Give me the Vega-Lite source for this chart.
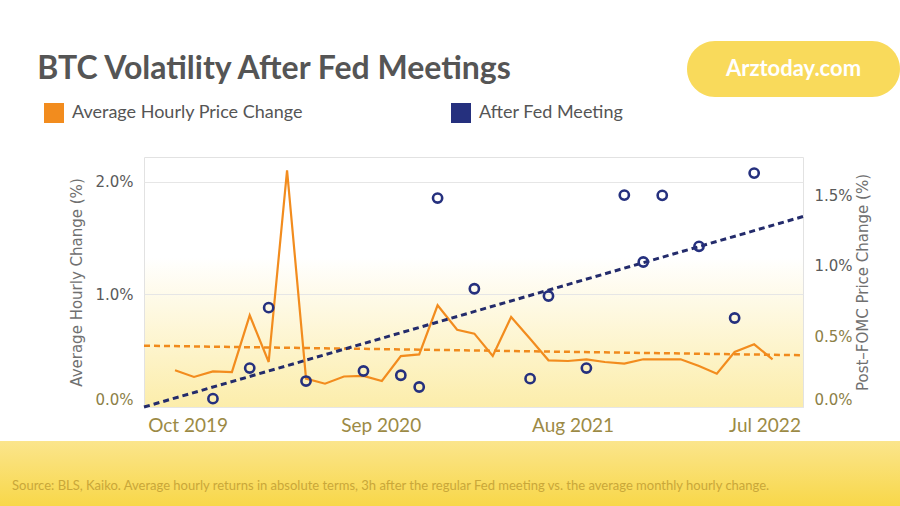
{
  "$schema": "https://vega.github.io/schema/vega-lite/v6.json",
  "background": "#FFFFFF",
  "padding": {"left": 0, "top": 41, "right": 0, "bottom": 0},
  "spacing": 5,
  "config": {"font": "Lato", "view": {"stroke": null}},
  "resolve": {"scale": {"color": "independent"}, "legend": {"color": "independent"}},
  "datasets": {
    "avg": [
      {"d": "2019-09-09", "v": 0.326}, {"d": "2019-10-12", "v": 0.267}, {"d": "2019-11-14", "v": 0.317},
      {"d": "2019-12-17", "v": 0.311}, {"d": "2020-01-17", "v": 0.815}, {"d": "2020-02-19", "v": 0.400},
      {"d": "2020-03-22", "v": 2.104}, {"d": "2020-04-24", "v": 0.252}, {"d": "2020-05-27", "v": 0.207},
      {"d": "2020-06-29", "v": 0.271}, {"d": "2020-08-02", "v": 0.276}, {"d": "2020-09-03", "v": 0.231},
      {"d": "2020-10-06", "v": 0.453}, {"d": "2020-11-07", "v": 0.468}, {"d": "2020-12-09", "v": 0.904},
      {"d": "2021-01-12", "v": 0.687}, {"d": "2021-02-11", "v": 0.652}, {"d": "2021-03-15", "v": 0.453},
      {"d": "2021-04-16", "v": 0.800}, {"d": "2021-05-19", "v": 0.607}, {"d": "2021-06-20", "v": 0.415},
      {"d": "2021-07-24", "v": 0.409}, {"d": "2021-08-25", "v": 0.424}, {"d": "2021-09-26", "v": 0.400},
      {"d": "2021-10-30", "v": 0.385}, {"d": "2021-12-02", "v": 0.424}, {"d": "2022-01-04", "v": 0.424},
      {"d": "2022-02-05", "v": 0.424}, {"d": "2022-03-09", "v": 0.364}, {"d": "2022-04-09", "v": 0.296},
      {"d": "2022-05-10", "v": 0.489}, {"d": "2022-06-13", "v": 0.557}, {"d": "2022-07-15", "v": 0.424}
    ],
    "fed": [
      {"d": "2019-11-14", "v": 0.059}, {"d": "2020-01-17", "v": 0.276}, {"d": "2020-02-19", "v": 0.704},
      {"d": "2020-04-24", "v": 0.184}, {"d": "2020-08-02", "v": 0.255}, {"d": "2020-10-06", "v": 0.225},
      {"d": "2020-11-07", "v": 0.142}, {"d": "2020-12-09", "v": 1.481}, {"d": "2021-02-11", "v": 0.838},
      {"d": "2021-05-19", "v": 0.201}, {"d": "2021-06-20", "v": 0.787}, {"d": "2021-08-25", "v": 0.276},
      {"d": "2021-10-30", "v": 1.502}, {"d": "2021-12-02", "v": 1.028}, {"d": "2022-01-04", "v": 1.500},
      {"d": "2022-03-09", "v": 1.139}, {"d": "2022-05-10", "v": 0.631}, {"d": "2022-06-13", "v": 1.658}
    ],
    "avgTrend": [{"d": "2019-07-17", "v": 0.545}, {"d": "2022-09-06", "v": 0.46}],
    "fedTrend": [{"d": "2019-07-17", "v": 0.0}, {"d": "2022-09-06", "v": 1.35}]
  },
  "vconcat": [
    {
      "hconcat": [
        {
          "width": 548, "height": 56,
          "data": {"values": [{"t": "BTC Volatility After Fed Meetings"}]},
          "mark": {"type": "text", "font": "Lato", "fontWeight": "bold", "fontSize": 32, "color": "#555555", "baseline": "middle"},
          "encoding": {"text": {"field": "t"}}
        },
        {
          "width": 213, "height": 56,
          "view": {"fill": "#F9DA5B", "stroke": null, "cornerRadius": 28},
          "data": {"values": [{"t": "Arztoday.com"}]},
          "mark": {"type": "text", "font": "Lato", "fontWeight": "bold", "fontSize": 22, "color": "#FFFFFF", "baseline": "middle"},
          "encoding": {"text": {"field": "t"}}
        }
      ],
      "spacing": 139
    },
    {
      "resolve": {"scale": {"color": "independent"}, "legend": {"color": "independent"}},
      "hconcat": [
        {"width": 43, "height": 10, "data": {"values": []}, "mark": {"type": "point", "opacity": 0}},
        {
          "width": 659, "height": 250,
          "view": {
            "stroke": "#E2E2E2",
            "fill": {"gradient": "linear", "x1": 0, "y1": 0, "x2": 0, "y2": 1,
              "stops": [{"offset": 0, "color": "#FFFFFF"}, {"offset": 0.4, "color": "#FFFFFF"}, {"offset": 1, "color": "#FCEDAA"}]}
          },
          "encoding": {
            "x": {
              "field": "d", "type": "temporal",
              "scale": {"type": "utc", "domain": [{"year": 2019, "month": 7, "date": 17, "utc": true}, {"year": 2022, "month": 9, "date": 6, "utc": true}]},
              "axis": {
                "title": null, "grid": false, "domain": false, "ticks": false,
                "values": [
                  {"year": 2019, "month": 10, "date": 1, "utc": true},
                  {"year": 2020, "month": 9, "date": 1, "utc": true},
                  {"year": 2021, "month": 8, "date": 1, "utc": true},
                  {"year": 2022, "month": 7, "date": 1, "utc": true}
                ],
                "format": "%b %Y", "labelFont": "Lato", "labelFontSize": 19, "labelColor": "#9C8A45", "labelPadding": 9, "labelFlush": false
              }
            }
          },
          "layer": [
            {
              "encoding": {
                "y": {
                  "field": "v", "type": "quantitative",
                  "scale": {"domain": [0, 2.222], "nice": false},
                  "axis": {
                    "orient": "left", "values": [0, 1, 2],
                    "labelExpr": "format(datum.value, '.1f') + '%'",
                    "grid": true, "gridColor": "#E6E6E6", "domain": false, "ticks": false,
                    "labelFont": "DejaVu Sans", "labelFontSize": 15, "labelPadding": 11, "labelFlush": true,
                    "labelColor": {"condition": {"test": "datum.value < 0.5", "value": "#8C8046"}, "value": "#5A5A5A"},
                    "title": "Average Hourly Change (%)", "titleFont": "DejaVu Sans", "titleFontSize": 15,
                    "titleFontWeight": "normal", "titleColor": "#707070", "titlePadding": 10
                  }
                }
              },
              "layer": [
                {
                  "data": {"name": "avgTrend"},
                  "mark": {"type": "line", "color": "#F08A1C", "strokeWidth": 2.5, "strokeDash": [6, 4]}
                },
                {
                  "data": {"name": "avg"},
                  "mark": {"type": "line", "strokeWidth": 2.2},
                  "encoding": {
                    "color": {
                      "datum": "Average Hourly Price Change", "type": "nominal",
                      "scale": {"domain": ["Average Hourly Price Change", "After Fed Meeting"], "range": ["#F28C1E", "#25307E"]},
                      "legend": {
                        "title": null, "orient": "none", "legendX": -100, "legendY": -54, "direction": "horizontal",
                        "symbolType": "square", "symbolSize": 400, "symbolStrokeWidth": 0,
                        "labelFont": "Lato", "labelFontSize": 18, "labelColor": "#555555", "labelOffset": 8, "labelLimit": 500,
                        "columnPadding": 148, "padding": 0,
                        "encode": {"symbols": {"update": {"fill": {"signal": "datum.value === 'After Fed Meeting' ? '#25307E' : '#F28C1E'"}, "fillOpacity": {"value": 1}, "opacity": {"value": 1}}}}
                      }
                    }
                  }
                },
                {
                  "data": {"values": [{}]},
                  "mark": {"type": "rect", "color": "#F3F3F3", "opacity": 0.95},
                  "encoding": {
                    "x": {"datum": {"year": 2020, "month": 5, "date": 6, "utc": true}, "type": "temporal"},
                    "x2": {"datum": {"year": 2021, "month": 4, "date": 5, "utc": true}},
                    "y": {"datum": 1.68, "type": "quantitative"},
                    "y2": {"datum": 1.351}
                  }
                },
                {
                  "data": {"values": [{}]},
                  "mark": {"type": "rule", "color": "#C8C8C8", "strokeWidth": 1.5},
                  "encoding": {
                    "x": {"datum": {"year": 2020, "month": 4, "date": 27, "utc": true}, "type": "temporal"},
                    "x2": {"datum": {"year": 2020, "month": 10, "date": 19, "utc": true}},
                    "y": {"datum": 1.976, "type": "quantitative"},
                    "y2": {"datum": 1.689}
                  }
                },
                {
                  "data": {"values": [{}]},
                  "mark": {"type": "text", "font": "DejaVu Sans", "fontSize": 15, "color": "#555555", "align": "center", "baseline": "middle"},
                  "encoding": {
                    "x": {"datum": {"year": 2020, "month": 10, "date": 19, "utc": true}, "type": "temporal"},
                    "y": {"datum": 1.52, "type": "quantitative"},
                    "text": {"value": "March 2020 crash"}
                  }
                }
              ]
            },
            {
              "encoding": {
                "y": {
                  "field": "v", "type": "quantitative",
                  "scale": {"domain": [0, 1.772], "nice": false},
                  "axis": {
                    "orient": "right", "values": [0, 0.5, 1, 1.5],
                    "labelExpr": "format(datum.value, '.1f') + '%'",
                    "grid": false, "domain": false, "ticks": false,
                    "labelFont": "DejaVu Sans", "labelFontSize": 15, "labelPadding": 11, "labelFlush": true,
                    "labelColor": {"condition": {"test": "datum.value < 0.75", "value": "#8C8046"}, "value": "#5A5A5A"},
                    "title": "Post–FOMC Price Change (%)", "titleFont": "DejaVu Sans", "titleFontSize": 15,
                    "titleFontWeight": "normal", "titleColor": "#707070", "titlePadding": 18, "titleAngle": 270
                  }
                }
              },
              "layer": [
                {
                  "data": {"name": "fedTrend"},
                  "mark": {"type": "line", "color": "#232B6B", "strokeWidth": 3, "strokeDash": [6, 4]}
                },
                {
                  "data": {"name": "fed"},
                  "mark": {"type": "point", "filled": false, "strokeWidth": 2.6, "size": 85, "opacity": 1},
                  "encoding": {"color": {"datum": "After Fed Meeting", "type": "nominal"}}
                }
              ]
            }
          ],
          "resolve": {"scale": {"y": "independent"}}
        }
      ],
      "spacing": 0
    },
    {
      "width": 900, "height": 66,
      "view": {
        "stroke": null,
        "fill": {"gradient": "linear", "x1": 0, "y1": 0, "x2": 0, "y2": 1,
          "stops": [{"offset": 0, "color": "#FBE58C"}, {"offset": 1, "color": "#F8D748"}]}
      },
      "title": {"text": "Source: BLS, Kaiko. Average hourly returns in absolute terms, 3h after the regular Fed meeting vs. the average monthly hourly change.",
        "orient": "bottom", "anchor": "start", "offset": -21, "baseline": "middle", "dx": 12,
        "font": "Lato", "fontSize": 13, "fontWeight": "normal", "color": "#C9A739"},
      "data": {"values": []},
      "mark": {"type": "point", "opacity": 0}
    }
  ]
}
